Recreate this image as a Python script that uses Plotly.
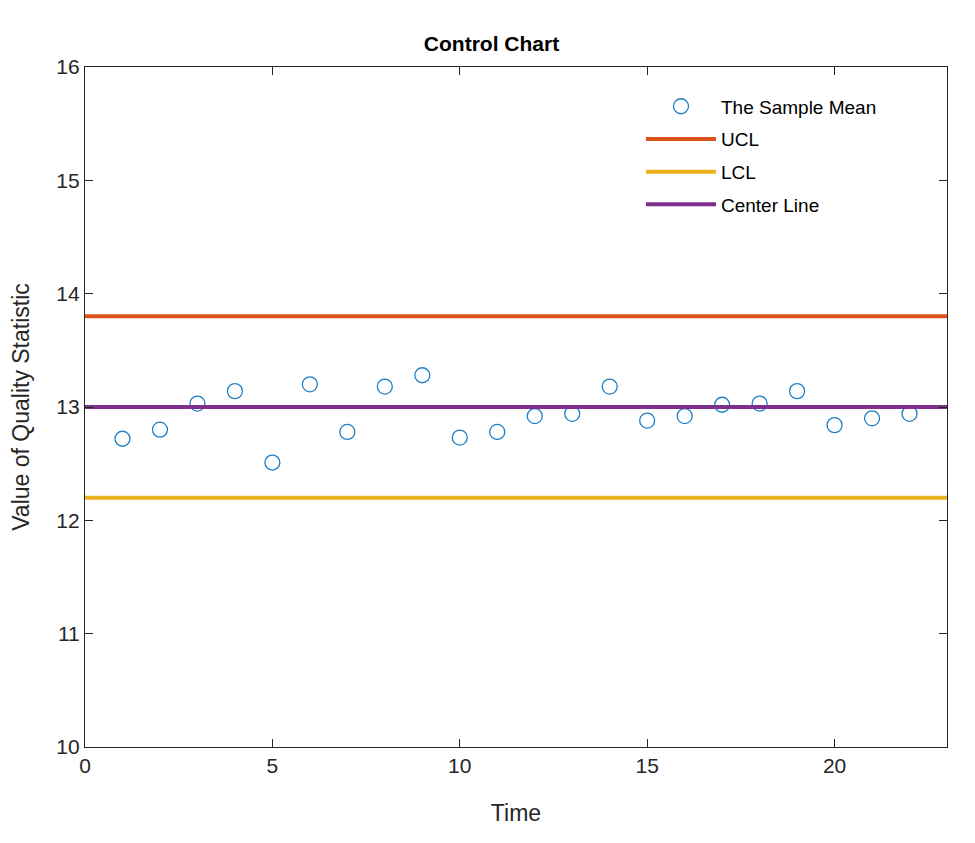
import plotly.graph_objects as go

time = list(range(1, 23))
sample_mean = [12.72, 12.80, 13.03, 13.14, 12.51, 13.20, 12.78, 13.18, 13.28, 12.73, 12.78,
               12.92, 12.94, 13.18, 12.88, 12.92, 13.02, 13.03, 13.14, 12.84, 12.90, 12.94]
ucl = 13.8
lcl = 12.2
center = 13.0
x_range = [0, 23]

fig = go.Figure()
fig.add_trace(go.Scatter(x=time, y=sample_mean, mode="markers", name="The Sample Mean",
                         legendgroup="g1",
                         marker=dict(symbol="circle-open", size=15, color="#1f7fc4",
                                     line=dict(width=1.3, color="#1f7fc4"))))
fig.add_trace(go.Scatter(x=x_range, y=[ucl, ucl], mode="lines", name="UCL", legendgroup="g2",
                         line=dict(color="#D95319", width=4)))
fig.add_trace(go.Scatter(x=x_range, y=[lcl, lcl], mode="lines", name="LCL", legendgroup="g3",
                         line=dict(color="#EDB120", width=4)))
fig.add_trace(go.Scatter(x=x_range, y=[center, center], mode="lines", name="Center Line",
                         legendgroup="g4", line=dict(color="#7E2F8E", width=4)))

axis_common = dict(showline=True, linecolor="#262626", linewidth=1.2, mirror="ticks",
                   ticks="inside", ticklen=8, tickcolor="#262626", showgrid=False,
                   zeroline=False, tickfont=dict(size=21, color="#262626"))

fig.update_layout(
    width=967, height=835,
    paper_bgcolor="white", plot_bgcolor="white",
    font=dict(family="Liberation Sans, Arial, sans-serif", color="#262626"),
    margin=dict(l=72, r=28, t=59, b=96),
    title=dict(text="<b>Control Chart</b>", x=0.5, xanchor="center", y=0.957, yanchor="middle",
               font=dict(size=21, color="black")),
    xaxis=dict(range=x_range, tickvals=[0, 5, 10, 15, 20],
               title=dict(text="Time", font=dict(size=23), standoff=28),
               **axis_common),
    yaxis=dict(range=[10, 16], tickvals=[10, 11, 12, 13, 14, 15, 16],
               title=dict(text="Value of Quality Statistic", font=dict(size=23), standoff=20),
               **axis_common),
    legend=dict(x=0.645, y=0.97, xanchor="left", yanchor="top", bgcolor="rgba(255,255,255,0)",
                borderwidth=0, font=dict(size=19, color="black"), itemwidth=70,
                tracegroupgap=5, groupclick="toggleitem"),
    showlegend=True,
)

fig.write_html("out.html")
